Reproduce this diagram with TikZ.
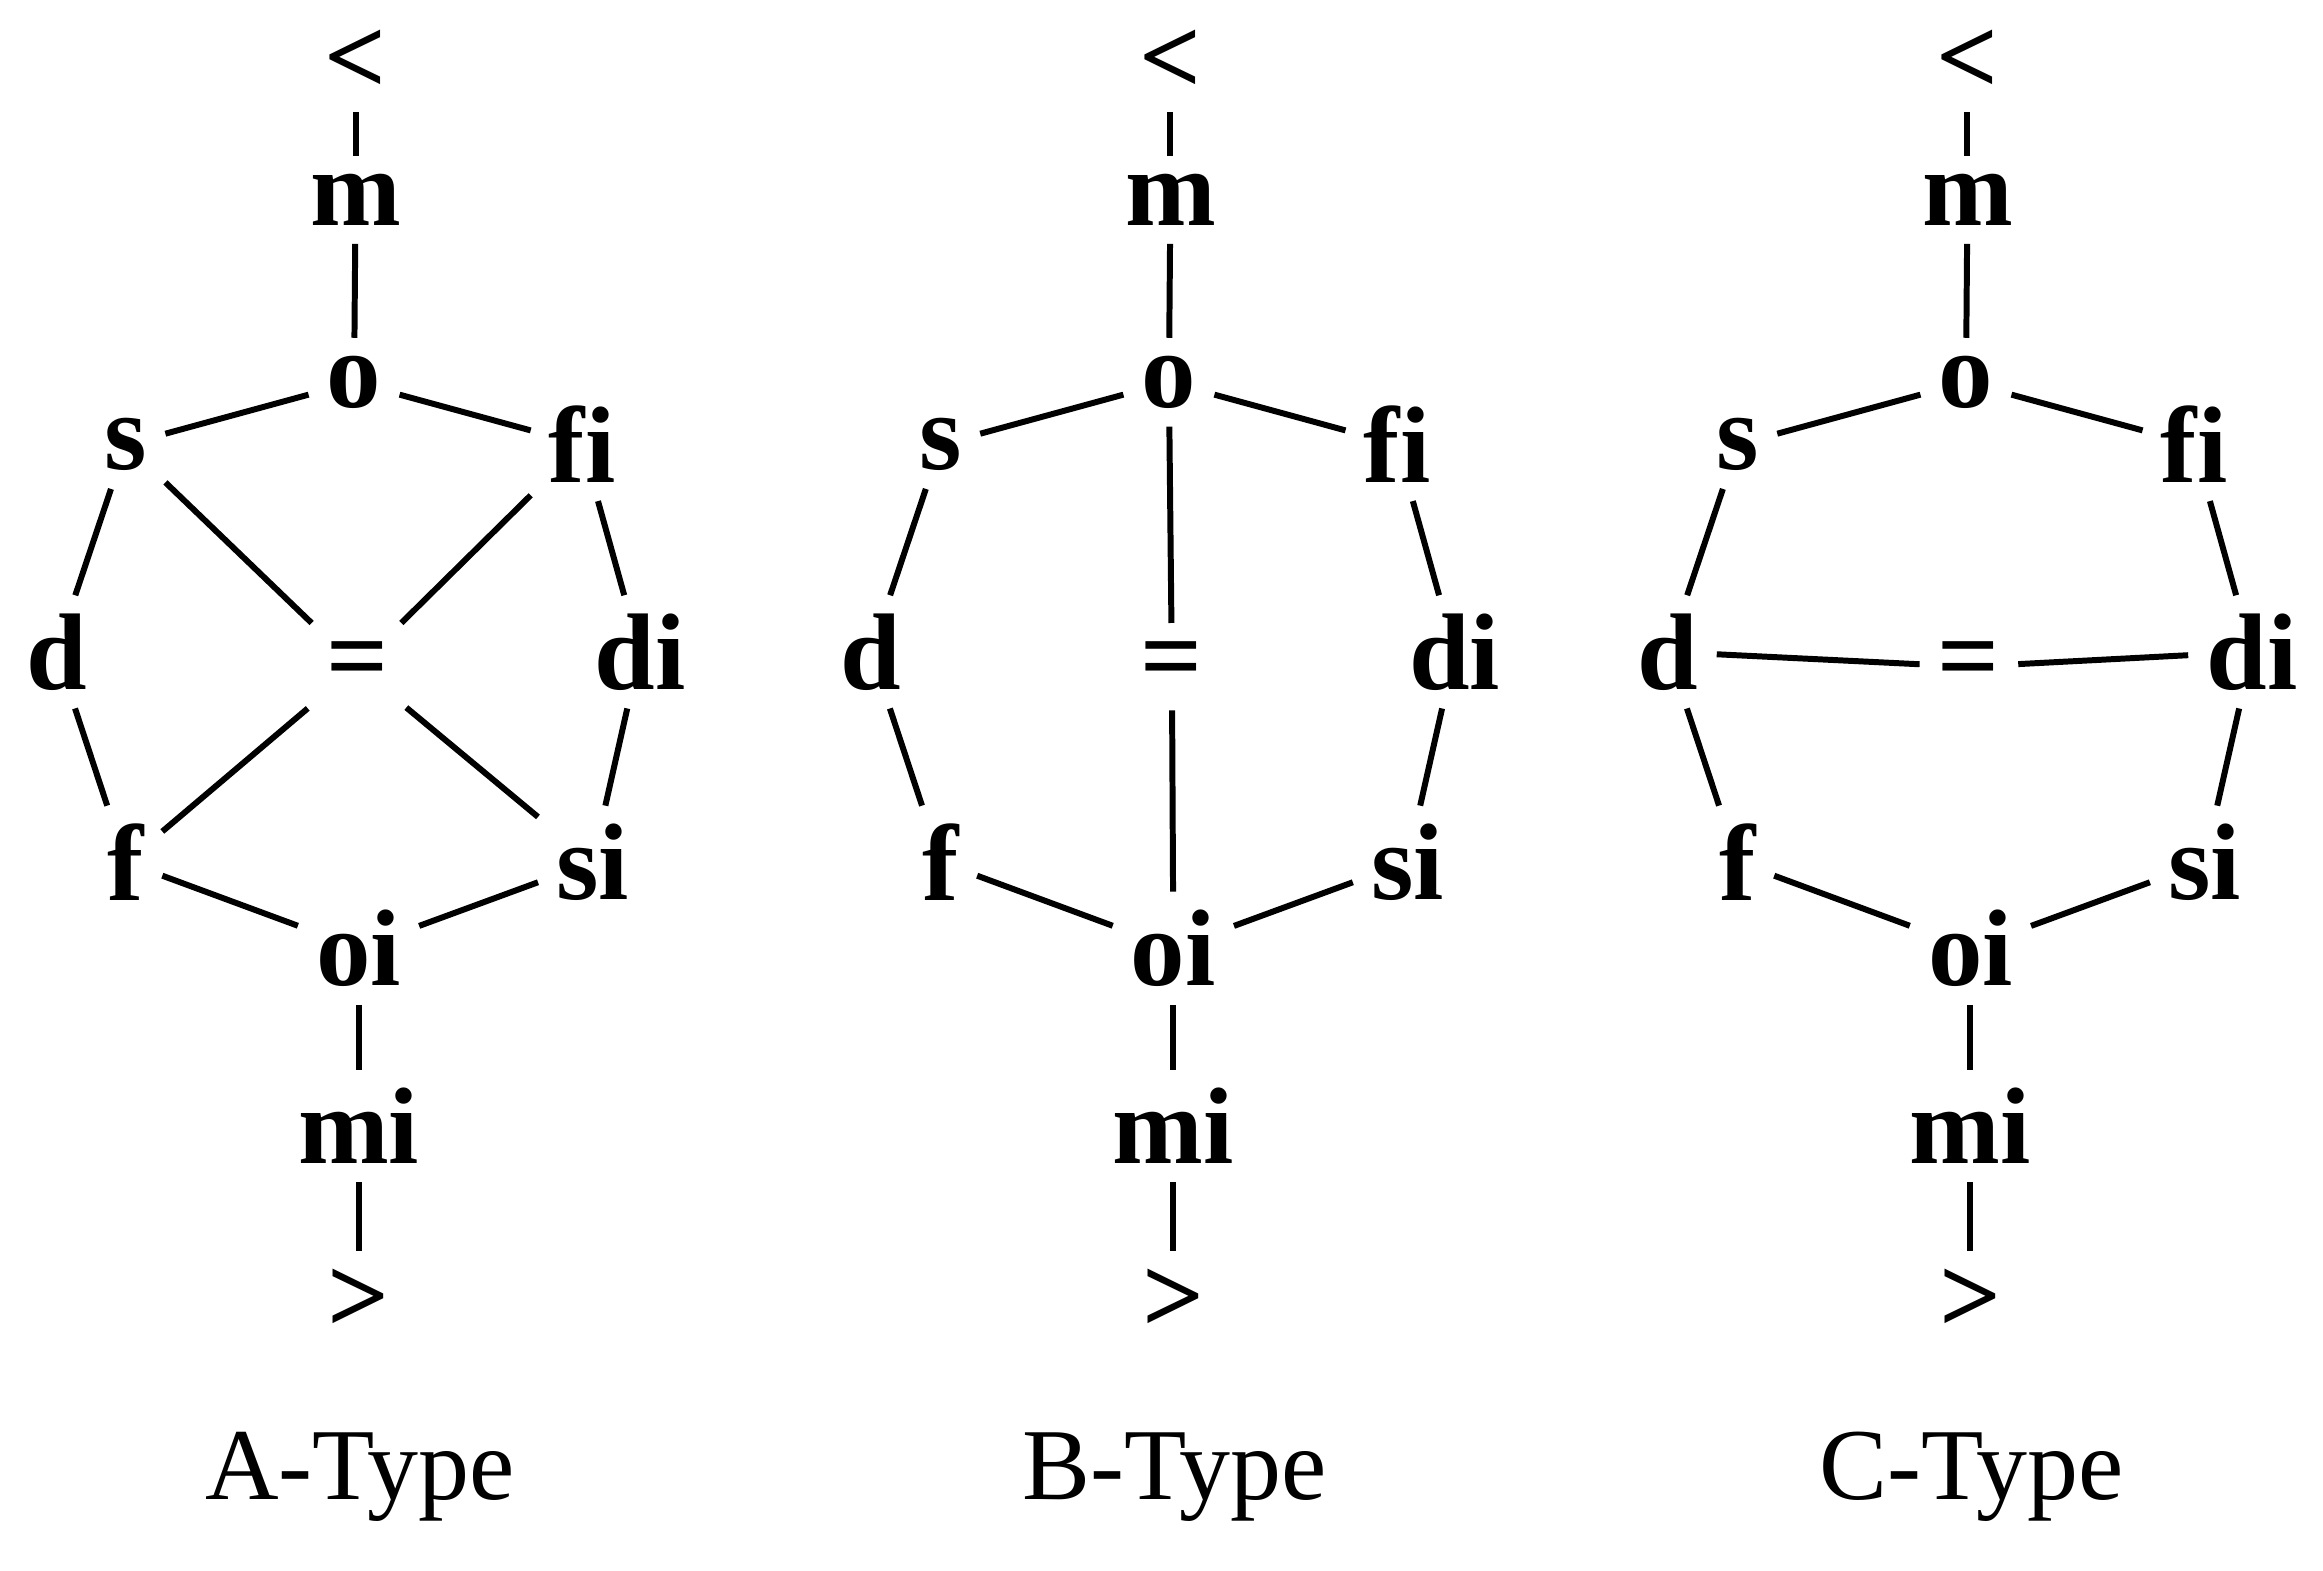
\documentclass[tikz,border=0pt]{standalone}
\usepackage{fontspec}
\setmainfont{Liberation Serif}
\newcommand\myring[3]{%
  \begin{scope}[shift={(#2,0)}]
  \node[lbl] (#1lt) at (240,42) {<};
  \node[lbl] (#1m) at (240,135) {m};
  \node[lbl] (#1o) at (239,258) {o};
  \node[lbl] (#1s) at (85,300) {s};
  \node[lbl] (#1fi) at (393,300) {fi};
  \node[lbl] (#1d) at (38,440) {d};
  \node[lbl] (#1eq) at (241,450) {=};
  \node[lbl] (#1di) at (432,440) {di};
  \node[lbl] (#1f) at (85,582) {f};
  \node[lbl] (#1si) at (400,582) {si};
  \node[lbl] (#1oi) at (242,640) {oi};
  \node[lbl] (#1mi) at (242,760) {mi};
  \node[lbl] (#1gt) at (242,878) {>};
  \node[captext] (#1cap) at (243,997) {#3-Type};
  \draw[edge] (#1lt)--(#1m); \draw[edge] (#1m)--(#1o);
  \draw[edge] (#1o)--(#1s); \draw[edge] (#1o)--(#1fi);
  \draw[edge] (#1s)--(#1d); \draw[edge] (#1d)--(#1f);
  \draw[edge] (#1f)--(#1oi); \draw[edge] (#1oi)--(#1si);
  \draw[edge] (#1si)--(#1di); \draw[edge] (#1di)--(#1fi);
  \draw[edge] (#1oi)--(#1mi); \draw[edge] (#1mi)--(#1gt);
  \end{scope}}
\begin{document}
\begin{tikzpicture}[x=0.014815cm,y=-0.014815cm,
  lbl/.style={font=\fontsize{31}{33}\selectfont\bfseries,inner sep=5pt},
  captext/.style={font=\fontsize{29}{31}\selectfont},
  edge/.style={line width=1.7pt}]
\useasboundingbox (0,0) rectangle (1568,1060);
\myring{a}{0}{A}
\myring{b}{550}{B}
\myring{c}{1088}{C}
\draw[edge] (as)--(aeq); \draw[edge] (afi)--(aeq);
\draw[edge] (af)--(aeq); \draw[edge] (asi)--(aeq);
\draw[edge] (bo)--(beq); \draw[edge] (beq)--(boi);
\draw[edge] (cd)--(ceq); \draw[edge] (ceq)--(cdi);
\end{tikzpicture}
\end{document}
